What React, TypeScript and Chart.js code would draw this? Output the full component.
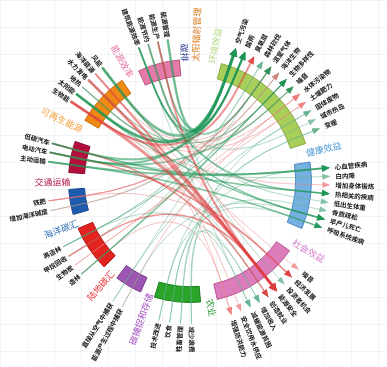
import React, { useEffect, useRef } from "react";
import { Chart, registerables } from "chart.js";

Chart.register(...registerables);

// ---------- data ----------
const groupNames = ["环境效益", "健康效益", "社会效益", "农业", "碳捕捉和存储", "陆地碳汇", "海洋碳汇", "交通运输", "可再生能源", "能源效率", "碳排", "太阳辐射管理"];
const groupSpans = [57, 32, 42, 22, 13, 22, 12, 15, 26, 20, 1, 1];
const groupItems: string[][] = [
  ["空气污染", "酸雨", "臭氧层", "森林砍伐", "温室气体", "海洋生物", "生物多样性", "噪音", "水体污染物", "土壤肥力", "固体废物", "城市热岛", "变暖"],
  ["心血管疾病", "白内障", "增加身体锻炼", "热相关的疾病", "低出生体重", "骨质疏松", "早产儿死亡", "呼吸系统疾病"],
  ["噪音", "经济发展", "投资者机会", "能源安全", "创造就业", "增加收入", "减缓能源贫困", "安全饮用水供应", "增强防洪能力"],
  ["减少浪费", "牲畜管理", "饮食", "技术改进"],
  ["能源产生过程中捕获", "直接从空气中捕获"],
  ["造林", "生物炭", "甲烷回收", "再造林"],
  ["增加海洋碱度", "铁肥"],
  ["主动运输", "电动汽车", "低碳汽车"],
  ["生物能", "太阳能", "地热", "水力发电", "海洋能源", "风能"],
  ["建筑能源效率", "能源节约", "能源生产", "能源管理"],
  [],
  [],
];
const targetGroupCount = 3;

const linkSrc = [
  "建筑能源效率", "建筑能源效率", "建筑能源效率", "建筑能源效率", "能源节约", "能源节约", "能源节约", "能源生产", "能源生产", "能源管理", "能源管理",
  "生物能", "生物能", "生物能", "生物能", "生物能", "太阳能", "太阳能", "太阳能", "太阳能", "地热", "地热",
  "水力发电", "水力发电", "水力发电", "水力发电", "海洋能源", "海洋能源", "风能", "风能", "风能", "风能",
  "主动运输", "主动运输", "电动汽车", "电动汽车", "电动汽车", "电动汽车", "低碳汽车", "低碳汽车", "低碳汽车", "低碳汽车",
  "增加海洋碱度", "增加海洋碱度", "铁肥", "铁肥", "铁肥",
  "造林", "造林", "造林", "生物炭", "生物炭", "甲烷回收", "甲烷回收", "再造林", "再造林", "再造林",
  "能源产生过程中捕获", "能源产生过程中捕获", "直接从空气中捕获", "直接从空气中捕获",
  "减少浪费", "减少浪费", "牲畜管理", "牲畜管理", "饮食", "饮食", "技术改进", "技术改进",
];
const linkDstGroup = [
  "环境效益", "环境效益", "健康效益", "社会效益", "环境效益", "健康效益", "社会效益", "环境效益", "社会效益", "环境效益", "社会效益",
  "环境效益", "环境效益", "环境效益", "社会效益", "健康效益", "环境效益", "环境效益", "健康效益", "社会效益", "环境效益", "环境效益",
  "社会效益", "社会效益", "社会效益", "环境效益", "环境效益", "社会效益", "环境效益", "环境效益", "社会效益", "健康效益",
  "健康效益", "健康效益", "环境效益", "环境效益", "健康效益", "社会效益", "环境效益", "健康效益", "健康效益", "社会效益",
  "环境效益", "环境效益", "环境效益", "环境效益", "社会效益",
  "环境效益", "环境效益", "社会效益", "环境效益", "环境效益", "环境效益", "社会效益", "环境效益", "环境效益", "社会效益",
  "环境效益", "健康效益", "环境效益", "环境效益",
  "环境效益", "社会效益", "环境效益", "社会效益", "健康效益", "健康效益", "环境效益", "健康效益",
];
const linkDst = [
  "酸雨", "城市热岛", "热相关的疾病", "减缓能源贫困", "空气污染", "低出生体重", "经济发展", "温室气体", "能源安全", "空气污染", "投资者机会",
  "臭氧层", "生物多样性", "土壤肥力", "能源安全", "增加身体锻炼", "空气污染", "酸雨", "早产儿死亡", "创造就业", "酸雨", "水体污染物",
  "能源安全", "安全饮用水供应", "增强防洪能力", "生物多样性", "海洋生物", "能源安全", "空气污染", "噪音", "噪音", "早产儿死亡",
  "心血管疾病", "呼吸系统疾病", "空气污染", "噪音", "心血管疾病", "经济发展", "酸雨", "热相关的疾病", "白内障", "创造就业",
  "海洋生物", "温室气体", "温室气体", "海洋生物", "经济发展",
  "森林砍伐", "生物多样性", "增强防洪能力", "土壤肥力", "水体污染物", "空气污染", "能源安全", "森林砍伐", "生物多样性", "增加收入",
  "水体污染物", "早产儿死亡", "温室气体", "固体废物",
  "固体废物", "增加收入", "变暖", "减缓能源贫困", "骨质疏松", "心血管疾病", "变暖", "呼吸系统疾病",
];
const linkEffect = [
  1, 0.5, 1, 0.5, 1, 0.5, -0.5, 1, -1, 1, 0.5,
  -1, -0.5, -0.5, -1, -0.5, 1, 1, 1, 0.5, 1, -0.5,
  -1, -0.5, -0.5, 1, -0.5, -1, 1, -0.5, -0.5, 1,
  1, 1, 1, 1, 1, -1, 1, 1, 0.5, -1,
  0.5, -0.5, -1, -0.5, -0.5,
  0.5, 1, -0.5, -0.5, -0.5, 0.5, -1, 0.5, 1, 0.5,
  -0.5, 0.5, 0.5, 0.5,
  0.5, 0.5, 0.5, 0.5, 0.5, 0.5, 0.5, 0.5,
];
const linkWeight = [
  2, 1, 1.5, 1, 2, 1, 1, 1.5, 2, 2.5, 1,
  2, 1, 1, 3, 1, 3, 2, 1.5, 1, 1.5, 1,
  3, 1, 1, 1, 1, 2, 3, 1, 1, 1.5,
  2, 1.5, 2, 1.5, 1.5, 1.5, 2, 1.5, 1, 1.5,
  1, 1, 1, 1, 1,
  1, 1.5, 1, 1, 1, 1, 1.5, 1, 1, 1,
  1, 1, 1, 1,
  1, 1, 1, 1, 1, 1, 1, 1,
];

// ---------- layout & style ----------
const gapAfter = [9, 12, 8, 7, 8, 7, 8, 11, 9, 7, 4, 7];
const arcFill = ["#a9cf5b", "#74b0e0", "#dc7cbc", "#2aa52a", "#9c55b0", "#e2231f", "#1e5cae", "#b40f3c", "#f08a14", "#e57aa8", "rgba(0,0,0,0)", "rgba(0,0,0,0)"];
const arcBorder = ["#86a83a", "#4b87bf", "#b2558f", "#1b7f1b", "#7a3a8e", "#b01a17", "#16468a", "#8a0a2c", "#c26a08", "#b85580", "rgba(0,0,0,0)", "rgba(0,0,0,0)"];
const labelColor = ["#b9d98c", "#4f9bd3", "#d47acb", "#2f9a3a", "#a450c0", "#e8393a", "#2f6db5", "#b0174a", "#f5a040", "#e67aa8", "#2b3990", "#d9822b"];
const FONT = '"Noto Sans CJK SC", "Noto Sans", sans-serif';

function linkColor(e: number, a: number) {
  if (e >= 1) return `rgba(30,150,85,${a})`;
  if (e > 0) return `rgba(95,175,140,${a * 0.85})`;
  if (e <= -1) return `rgba(222,60,60,${a})`;
  return `rgba(235,125,125,${a * 0.85})`;
}

function radialText(ctx: CanvasRenderingContext2D, text: string, cx: number, cy: number, ang: number, r: number, font: string, color: string) {
  const flip = Math.cos(ang) < -1e-6;
  ctx.save();
  ctx.translate(cx + Math.cos(ang) * r, cy + Math.sin(ang) * r);
  ctx.rotate(flip ? ang + Math.PI : ang);
  ctx.textAlign = flip ? "right" : "left";
  ctx.textBaseline = "middle";
  ctx.font = font;
  ctx.fillStyle = color;
  ctx.fillText(text, 0, 0);
  ctx.restore();
}

const chordPlugin = {
  id: "chordPlugin",
  afterDatasetsDraw(chart: any) {
    const ctx: CanvasRenderingContext2D = chart.ctx;
    const arcs = chart.getDatasetMeta(0).data as any[];
    const cx = arcs[0].x, cy = arcs[0].y;
    const rOut = arcs[0].outerRadius, rIn = arcs[0].innerRadius;
    const deg = Math.PI / 180;

    const itemAngle = (g: number, i: number) => {
      const a = arcs[2 * g];
      const n = groupItems[g].length;
      return a.startAngle + ((i + 1) * (a.endAngle - a.startAngle)) / (n + 1);
    };
    const P = (ang: number, r: number) => [cx + Math.cos(ang) * r, cy + Math.sin(ang) * r];

    const findSrc = (name: string) => {
      for (let g = targetGroupCount; g < groupNames.length; g++) {
        const i = groupItems[g].indexOf(name);
        if (i >= 0) return itemAngle(g, i);
      }
      return 0;
    };
    const findDst = (gName: string, name: string) => {
      const g = groupNames.indexOf(gName);
      return itemAngle(g, groupItems[g].indexOf(name));
    };

    const order = linkSrc.map((_, k) => k).sort((a, b) => linkWeight[a] - linkWeight[b]);
    ctx.save();
    ctx.lineCap = "round";
    ctx.lineJoin = "round";
    for (const k of order) {
      const a1 = findSrc(linkSrc[k]);
      const a2 = findDst(linkDstGroup[k], linkDst[k]);
      const s0 = P(a1, rOut + 21);
      const s1 = P(a1, rIn);
      const t1 = P(a2, rIn);
      const t2 = P(a2, rOut + 12);
      ctx.beginPath();
      ctx.moveTo(s0[0], s0[1]);
      ctx.lineTo(s1[0], s1[1]);
      ctx.quadraticCurveTo(cx, cy, t1[0], t1[1]);
      ctx.lineTo(t2[0], t2[1]);
      ctx.strokeStyle = linkColor(linkEffect[k], 0.55);
      ctx.lineWidth = linkWeight[k];
      ctx.stroke();
      // arrowhead
      const tip = P(a2, rOut + 19);
      const hw = 2.4 + linkWeight[k] * 0.6;
      const base = rOut + 11;
      const bx = cx + Math.cos(a2) * base, by = cy + Math.sin(a2) * base;
      const px = -Math.sin(a2), py = Math.cos(a2);
      ctx.beginPath();
      ctx.moveTo(tip[0], tip[1]);
      ctx.lineTo(bx + px * hw, by + py * hw);
      ctx.lineTo(bx - px * hw, by - py * hw);
      ctx.closePath();
      ctx.fillStyle = linkColor(linkEffect[k], 0.9);
      ctx.fill();
    }
    ctx.restore();

    // sub-item labels
    for (let g = 0; g < groupNames.length; g++) {
      groupItems[g].forEach((name, i) => {
        radialText(ctx, name, cx, cy, itemAngle(g, i), rOut + 24, `bold 6.5px ${FONT}`, "#111");
      });
    }
    // group labels
    for (let g = 0; g < groupNames.length; g++) {
      const a = arcs[2 * g];
      radialText(ctx, groupNames[g], cx, cy, a.startAngle - 4.5 * deg, rOut - 2, `9px ${FONT}`, labelColor[g]);
    }
  },
};

export default function App() {
  const ref = useRef<HTMLCanvasElement | null>(null);
  useEffect(() => {
    const data: number[] = [];
    const bg: string[] = [];
    const bc: string[] = [];
    const bw: number[] = [];
    groupSpans.forEach((v, g) => {
      data.push(v, gapAfter[g]);
      bg.push(arcFill[g], "rgba(0,0,0,0)");
      bc.push(arcBorder[g], "rgba(0,0,0,0)");
      bw.push(g < 10 ? 1 : 0, 0);
    });
    const chart = new Chart(ref.current as HTMLCanvasElement, {
      type: "doughnut",
      data: {
        labels: data.map((_, i) => (i % 2 === 0 ? groupNames[i / 2] : "")),
        datasets: [{ data, backgroundColor: bg, borderColor: bc, borderWidth: bw, hoverOffset: 0 }],
      },
      options: {
        animation: false,
        responsive: false,
        devicePixelRatio: 1,
        rotation: 15,
        cutout: "87%",
        layout: { padding: { left: 68, right: 75, top: 59, bottom: 64 } },
        plugins: { legend: { display: false }, tooltip: { enabled: false } },
        events: [],
      },
      plugins: [chordPlugin],
    } as any);
    return () => chart.destroy();
  }, []);
  return (
    <div
      style={{
        position: "fixed",
        left: 0,
        top: 0,
        width: 387,
        height: 367,
        backgroundColor: "#ffffff",
        backgroundImage:
          "linear-gradient(to right, rgba(220,224,236,0.35) 1px, transparent 1px), linear-gradient(to bottom, rgba(220,224,236,0.35) 1px, transparent 1px)",
        backgroundSize: "27px 27px",
      }}
    >
      <canvas ref={ref} width={387} height={367} />
    </div>
  );
}
